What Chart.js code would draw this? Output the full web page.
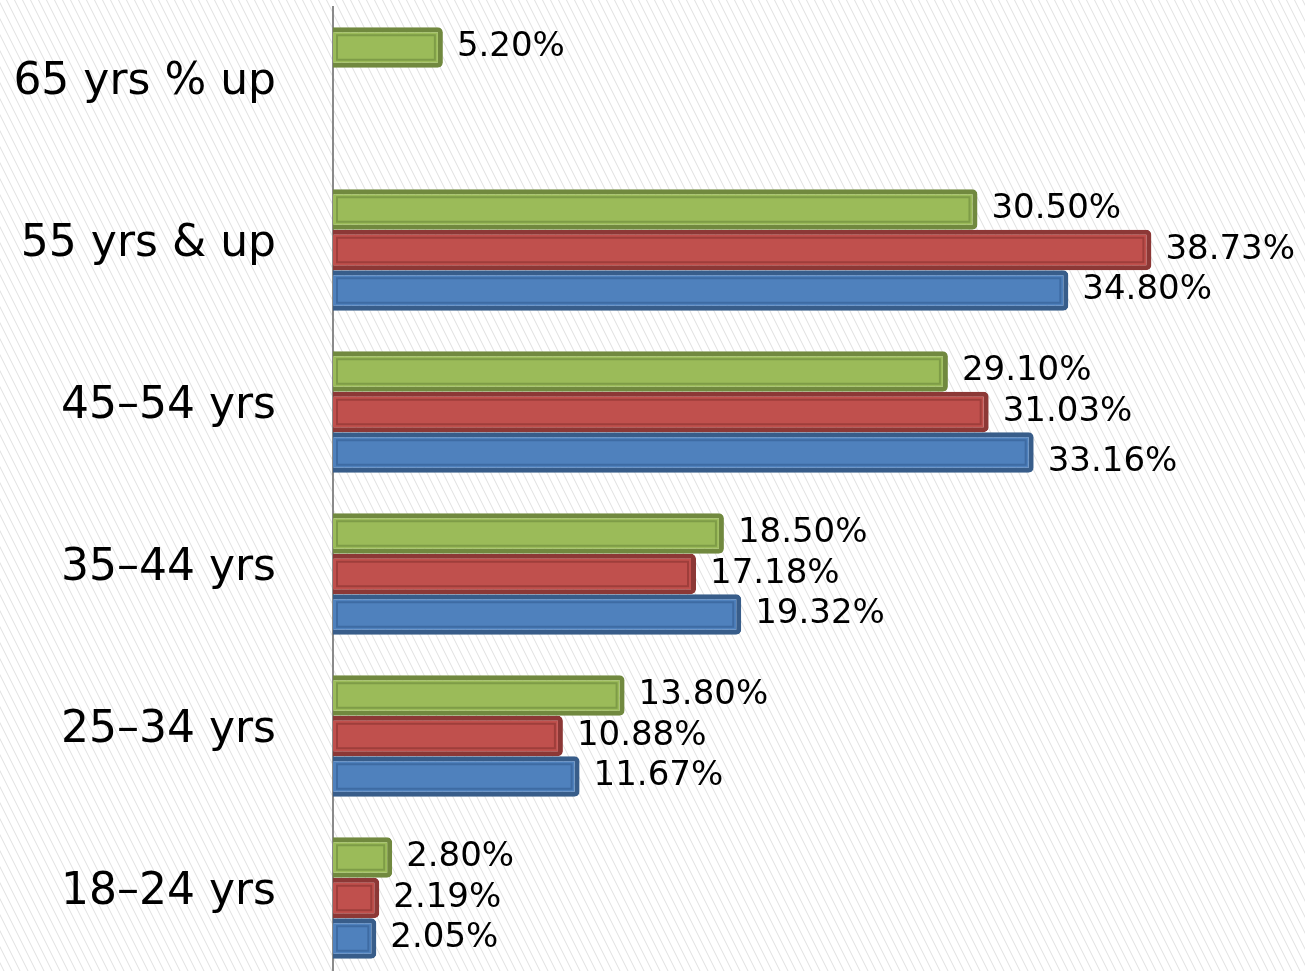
<!DOCTYPE html>
<html>
<head>
<meta charset="utf-8">
<script src="https://cdn.jsdelivr.net/npm/chart.js@4/dist/chart.umd.min.js"></script>
<style>
  html, body { margin: 0; padding: 0; overflow: hidden; background: #fff; }
  #wrap { width: 1305px; height: 979px; }
</style>
</head>
<body>
<div id="wrap"><canvas id="c" width="1305" height="979"></canvas></div>
<script>
// ---- data ----
const categories = ["65 yrs % up", "55 yrs & up", "45\u201354 yrs", "35\u201344 yrs", "25\u201334 yrs", "18\u201324 yrs"];
const greenValues = [5.20, 30.50, 29.10, 18.50, 13.80, 2.80];
const redValues   = [null, 38.73, 31.03, 17.18, 10.88, 2.19];
const blueValues  = [null, 34.80, 33.16, 19.32, 11.67, 2.05];
const valueLabelSuffix = "%";

const seriesStyles = [
  { fill: "#9BBB59", border: "#71893F", inner: "#7E9C47" },
  { fill: "#C0504D", border: "#8C3836", inner: "#9E3E3B" },
  { fill: "#4F81BD", border: "#385D8A", inner: "#3E6BA3" }
];

// background hatching
const hatchPlugin = {
  id: "hatch",
  beforeDraw(chart) {
    const ctx = chart.ctx;
    const W = chart.width, H = chart.height;
    ctx.save();
    ctx.fillStyle = "#ffffff";
    ctx.fillRect(0, 0, W, H);
    ctx.strokeStyle = "#e0e0e0";
    ctx.lineWidth = 1;
    ctx.beginPath();
    const slope = 0.5;
    for (let k = -H * slope; k < W + 10; k += 8) {
      ctx.moveTo(k, 0);
      ctx.lineTo(k + H * slope, H);
    }
    ctx.stroke();
    ctx.restore();
  }
};

// inner bevel line + value labels
const barDecorPlugin = {
  id: "barDecor",
  afterDatasetsDraw(chart) {
    const ctx = chart.ctx;
    ctx.save();
    chart.data.datasets.forEach((ds, di) => {
      const meta = chart.getDatasetMeta(di);
      const st = seriesStyles[di];
      meta.data.forEach((bar, i) => {
        const v = ds.data[i];
        if (v === null || v === undefined) return;
        const p = bar.getProps(["x", "y", "base", "height"], true);
        const top = p.y - p.height / 2, bot = p.y + p.height / 2;
        const left = p.base, right = p.x;
        ctx.strokeStyle = st.inner;
        ctx.lineWidth = 2;
        const ins = 8;
        if (right - left > 2 * ins) {
          ctx.strokeRect(left + 4, top + ins, right - left - 4 - ins, bot - top - 2 * ins);
        }
        ctx.fillStyle = "#000";
        ctx.font = "34px 'DejaVu Sans'";
        ctx.textAlign = "left";
        ctx.textBaseline = "middle";
        const off = (chart.options.plugins.barDecor.yOffsets[di] || [])[i] || 0;
        ctx.fillText(v.toFixed(2) + valueLabelSuffix, right + 14, p.y + off);
      });
    });
    ctx.restore();
  }
};

const mkDs = (label, data, st) => ({
  label, data,
  backgroundColor: st.fill,
  borderColor: st.border,
  borderWidth: 5,
  borderRadius: 5,
  borderSkipped: "start",
  categoryPercentage: 0.75,
  barPercentage: 1.0
});

new Chart(document.getElementById("c"), {
  type: "bar",
  data: {
    labels: categories,
    datasets: [
      mkDs("Series 1", greenValues, seriesStyles[0]),
      mkDs("Series 2", redValues, seriesStyles[1]),
      mkDs("Series 3", blueValues, seriesStyles[2])
    ]
  },
  plugins: [hatchPlugin, barDecorPlugin],
  options: {
    indexAxis: "y",
    responsive: false,
    animation: false,
    layout: { padding: { top: 7, right: 0, bottom: 0, left: 0 } },
    plugins: {
      legend: { display: false },
      tooltip: { enabled: false },
      barDecor: { yOffsets: [[], [], [0, 0, 10, 0, 0, 0]] }
    },
    scales: {
      x: {
        display: false,
        min: 0,
        max: 46
      },
      y: {
        position: "left",
        grid: { display: false, drawTicks: false },
        border: { display: true, color: "#8a8a8a", width: 2 },
        ticks: {
          color: "#000",
          font: { family: "'DejaVu Sans'", size: 44 },
          padding: 57,
          labelOffset: -5
        },
        afterFit(scale) {
          scale.width = 333;
          scale.paddingTop = 0;
          scale.paddingBottom = 0;
        }
      }
    }
  }
});
</script>
</body>
</html>
